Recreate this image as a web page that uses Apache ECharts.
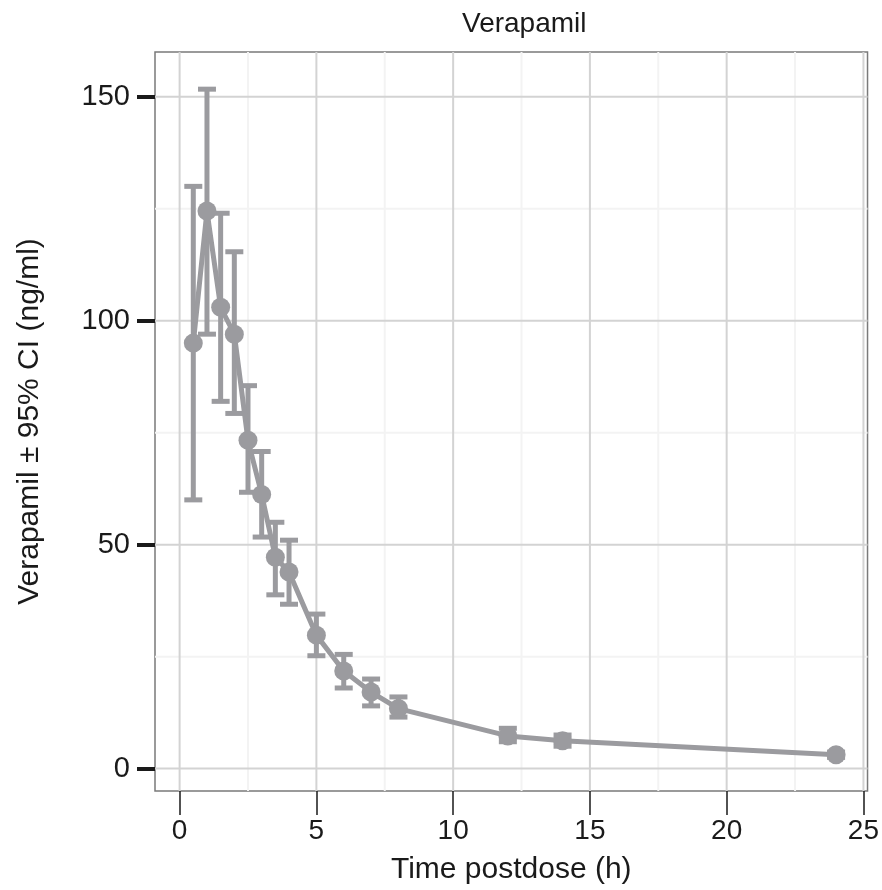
<!DOCTYPE html>
<html><head><meta charset="utf-8">
<script src="https://cdn.jsdelivr.net/npm/echarts@6/dist/echarts.min.js"></script>
<style>html,body{margin:0;padding:0;background:#fff}#c{width:882px;height:890px}</style>
</head><body><div id="c"></div>
<script>
const times = [0.5, 1, 1.5, 2, 2.5, 3, 3.5, 4, 5, 6, 7, 8, 12, 14, 24];
const means = [95, 124.5, 103, 97, 73.3, 61.2, 47.2, 43.9, 29.8, 21.8, 17.1, 13.4, 7.3, 6.2, 3.1];
const lower = [60, 97, 82, 79.3, 61.7, 51.7, 38.8, 36.7, 25.2, 18, 14, 11.5, 6, 5, 2.5];
const upper = [130, 151.7, 124, 115.4, 85.5, 70.8, 55, 51, 34.5, 25.5, 20, 16, 9, 7.5, 3.7];
const xTicks = [0, 5, 10, 15, 20, 25];
const yTicks = [0, 50, 100, 150];
const xMinor = [2.5, 7.5, 12.5, 17.5, 22.5];
const yMinor = [25, 75, 125];

const X_MIN = -0.9, X_MAX = 25.15, Y_MIN = -5, Y_MAX = 160;
const GRAY = '#9b9b9f';
const FONT = "'Liberation Sans', Arial, sans-serif";

const chart = echarts.init(document.getElementById('c'));

function gridRender(params, api) {
  const children = [];
  const add = (p1, p2, color, w) => children.push({
    type: 'line', shape: { x1: p1[0], y1: p1[1], x2: p2[0], y2: p2[1] },
    style: { stroke: color, lineWidth: w }
  });
  xMinor.forEach(v => add(api.coord([v, Y_MIN]), api.coord([v, Y_MAX]), '#f3f3f3', 2));
  yMinor.forEach(v => add(api.coord([X_MIN, v]), api.coord([X_MAX, v]), '#f3f3f3', 2));
  xTicks.forEach(v => add(api.coord([v, Y_MIN]), api.coord([v, Y_MAX]), '#d3d3d3', 2));
  yTicks.forEach(v => add(api.coord([X_MIN, v]), api.coord([X_MAX, v]), '#d3d3d3', 2));
  return { type: 'group', children };
}

function errRender(params, api) {
  const t = api.value(0);
  const lo = api.coord([t, api.value(1)]);
  const hi = api.coord([t, api.value(2)]);
  const cw = 9;
  const st = { stroke: GRAY, lineWidth: 5 };
  return {
    type: 'group', children: [
      { type: 'line', shape: { x1: lo[0], y1: lo[1], x2: hi[0], y2: hi[1] }, style: st },
      { type: 'line', shape: { x1: hi[0] - cw, y1: hi[1], x2: hi[0] + cw, y2: hi[1] }, style: st },
      { type: 'line', shape: { x1: lo[0] - cw, y1: lo[1], x2: lo[0] + cw, y2: lo[1] }, style: st }
    ]
  };
}

chart.setOption({
  animation: false,
  backgroundColor: '#fff',
  title: {
    text: 'Verapamil', left: 457, top: 5,
    textStyle: { fontFamily: FONT, fontSize: 28, fontWeight: 'normal', color: '#1a1a1a' }
  },
  grid: {
    left: 155, right: 14, top: 52, bottom: 98,
    show: true, borderColor: '#7a7a7a', borderWidth: 1.5, backgroundColor: '#fff'
  },
  xAxis: {
    type: 'value', min: X_MIN, max: X_MAX,
    name: 'Time postdose (h)', nameLocation: 'middle', nameGap: 64,
    nameTextStyle: { fontFamily: FONT, fontSize: 30, color: '#1a1a1a' },
    axisLine: { show: false, onZero: false },
    splitLine: { show: false },
    axisTick: { show: true, customValues: xTicks, length: 24, lineStyle: { color: '#1a1a1a', width: 1.5 } },
    axisLabel: { customValues: xTicks, margin: 26, fontFamily: FONT, fontSize: 28, color: '#1a1a1a' }
  },
  yAxis: {
    type: 'value', min: Y_MIN, max: Y_MAX,
    name: 'Verapamil ± 95% CI (ng/ml)', nameLocation: 'middle', nameGap: 110, nameRotate: 90,
    nameTextStyle: { fontFamily: FONT, fontSize: 30, color: '#1a1a1a' },
    axisLine: { show: false, onZero: false },
    splitLine: { show: false },
    axisTick: { show: true, customValues: yTicks, length: 18, lineStyle: { color: '#1a1a1a', width: 4 } },
    axisLabel: { customValues: yTicks, margin: 25, fontFamily: FONT, fontSize: 29, color: '#1a1a1a' }
  },
  series: [
    {
      type: 'custom', renderItem: gridRender, data: [[0, 0]], silent: true, z: 0, clip: true
    },
    {
      type: 'custom', renderItem: errRender, z: 2, clip: true,
      data: times.map((t, i) => [t, lower[i], upper[i]])
    },
    {
      type: 'line', z: 3,
      data: times.map((t, i) => [t, means[i]]),
      symbol: 'circle', symbolSize: 19, showSymbol: true,
      lineStyle: { color: GRAY, width: 5 },
      itemStyle: { color: GRAY }
    }
  ]
});
</script>
</body></html>
